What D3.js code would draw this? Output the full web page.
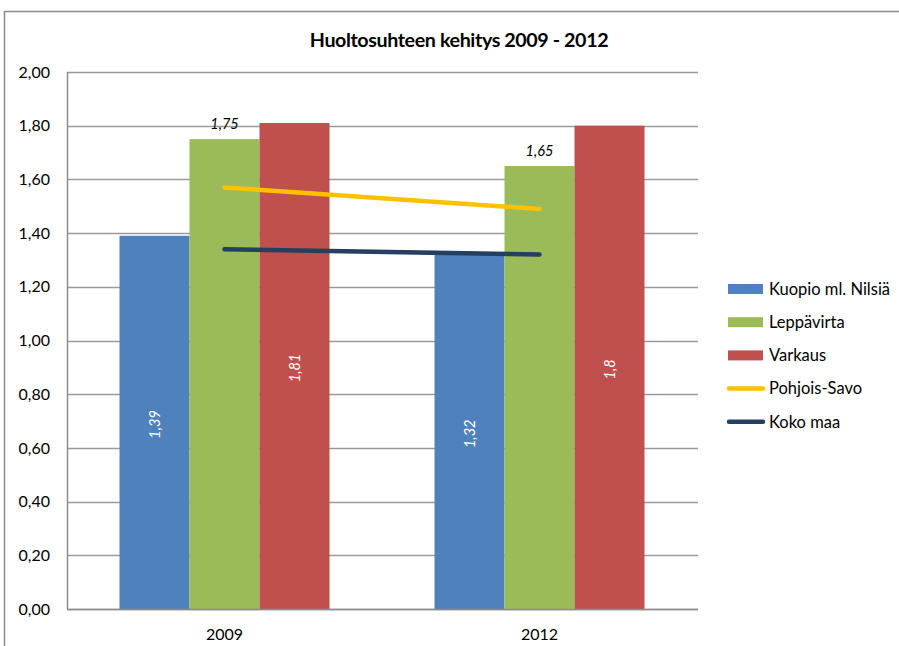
<!DOCTYPE html>
<html>
<head>
<meta charset="utf-8">
<script src="https://cdn.jsdelivr.net/npm/d3@7"></script>
<style>
  body { margin: 0; background: #fff; }
  svg { display: block; font-family: Lato, "Liberation Sans", sans-serif; }
</style>
</head>
<body>
<div id="chart"></div>
<script>
// data
var years = ["2009", "2012"];
var barSeries = ["Kuopio ml. Nilsiä", "Leppävirta", "Varkaus"];
var kuopio = [1.39, 1.32];
var leppavirta = [1.75, 1.65];
var varkaus = [1.81, 1.8];
var pohjoisSavo = [1.57, 1.49];
var kokoMaa = [1.34, 1.32];
var yTicks = [0, 0.2, 0.4, 0.6, 0.8, 1.0, 1.2, 1.4, 1.6, 1.8, 2.0];

var barColors = ["#4F81BD", "#9BBB59", "#C0504D"];
var lineColors = ["#FFC000", "#243F60"];

var width = 899, height = 646;
var margin = {top: 72, right: 202, bottom: 37, left: 67};

var svg = d3.select("#chart").append("svg")
    .attr("width", width)
    .attr("height", height);

// chart area frame (cut at right/bottom like the screenshot)
svg.append("path")
    .attr("d", "M4.5," + height + "V11.5H" + width)
    .attr("fill", "none")
    .attr("stroke", "#8c8c8c")
    .attr("stroke-width", 1.5);

var x0 = d3.scaleBand()
    .domain(years)
    .range([margin.left, width - margin.right]);

var x1 = d3.scaleBand()
    .domain(barSeries)
    .range([0, x0.bandwidth()])
    .paddingOuter(0.75);

var y = d3.scaleLinear()
    .domain([0, 2])
    .range([height - margin.bottom, margin.top]);

var fmt = function(v){ return d3.format(".2f")(v).replace(".", ","); };

// gridlines
svg.append("g")
  .selectAll("line")
  .data(yTicks)
  .join("line")
    .attr("x1", margin.left)
    .attr("x2", width - margin.right + 1)
    .attr("y1", d => Math.round(y(d)) + 0.5)
    .attr("y2", d => Math.round(y(d)) + 0.5)
    .attr("stroke", "#9a9a9a")
    .attr("stroke-width", 1.5);

// y labels
svg.append("g")
  .selectAll("text")
  .data(yTicks)
  .join("text")
    .attr("x", 50)
    .attr("y", d => y(d))
    .attr("dy", "0.35em")
    .attr("text-anchor", "end")
    .attr("font-size", 16)
    .attr("fill", "#000")
    .text(fmt);

// bars
var barData = years.map(function(yr, i){
  return [kuopio[i], leppavirta[i], varkaus[i]].map(function(v, j){
    return {year: yr, series: barSeries[j], idx: j, value: v};
  });
});

var groups = svg.append("g")
  .selectAll("g")
  .data(barData)
  .join("g")
    .attr("transform", (d, i) => "translate(" + x0(years[i]) + ",0)");

groups.selectAll("rect")
  .data(d => d)
  .join("rect")
    .attr("x", d => x1(d.series))
    .attr("width", x1.bandwidth())
    .attr("y", d => y(d.value))
    .attr("height", d => y(0) - y(d.value))
    .attr("fill", d => barColors[d.idx]);

// labels inside bars (rotated) for Kuopio and Varkaus
groups.selectAll("text.inside")
  .data(d => d.filter(e => e.idx !== 1))
  .join("text")
    .attr("class", "inside")
    .attr("transform", d => "translate(" + (x1(d.series) + x1.bandwidth() / 2) + "," + ((y(d.value) + y(0)) / 2 + 2) + ") rotate(-90)")
    .attr("text-anchor", "middle")
    .attr("dy", "0.35em")
    .attr("font-size", 14.5)
    .attr("font-style", "italic")
    .attr("fill", "#fff")
    .text(d => String(d.value).replace(".", ","));

// labels above Leppävirta bars
groups.selectAll("text.above")
  .data(d => d.filter(e => e.idx === 1))
  .join("text")
    .attr("class", "above")
    .attr("x", d => x1(d.series) + x1.bandwidth() / 2)
    .attr("y", d => y(d.value) - 10)
    .attr("text-anchor", "middle")
    .attr("font-size", 14.5)
    .attr("font-style", "italic")
    .attr("fill", "#000")
    .text(d => String(d.value).replace(".", ","));

// lines
var line = d3.line()
    .x((d, i) => x0(years[i]) + x0.bandwidth() / 2)
    .y(d => y(d));

[pohjoisSavo, kokoMaa].forEach(function(s, k){
  svg.append("path")
    .datum(s)
    .attr("d", line)
    .attr("fill", "none")
    .attr("stroke", lineColors[k])
    .attr("stroke-width", 4.5)
    .attr("stroke-linecap", "round");
});

// axes lines
svg.append("line")
    .attr("x1", margin.left + 0.5).attr("x2", margin.left + 0.5)
    .attr("y1", margin.top).attr("y2", y(0))
    .attr("stroke", "#8c8c8c").attr("stroke-width", 1.5);
svg.append("line")
    .attr("x1", margin.left).attr("x2", width - margin.right + 1)
    .attr("y1", Math.round(y(0)) + 0.5).attr("y2", Math.round(y(0)) + 0.5)
    .attr("stroke", "#8c8c8c").attr("stroke-width", 1.5);

// x labels
svg.append("g")
  .selectAll("text")
  .data(years)
  .join("text")
    .attr("x", d => x0(d) + x0.bandwidth() / 2)
    .attr("y", 640)
    .attr("text-anchor", "middle")
    .attr("font-size", 16)
    .attr("fill", "#000")
    .text(d => d);

// title
svg.append("text")
    .attr("x", 459)
    .attr("y", 47)
    .attr("text-anchor", "middle")
    .attr("font-size", 19.7)
    .attr("font-weight", "bold")
    .attr("letter-spacing", "-0.4")
    .attr("fill", "#000")
    .text("Huoltosuhteen kehitys 2009 - 2012");

// legend
var legendItems = barSeries.map((s, i) => ({name: s, color: barColors[i], type: "bar"}))
  .concat([
    {name: "Pohjois-Savo", color: lineColors[0], type: "line"},
    {name: "Koko maa", color: lineColors[1], type: "line"}
  ]);

var legend = svg.append("g")
  .selectAll("g")
  .data(legendItems)
  .join("g")
    .attr("transform", (d, i) => "translate(728," + (289 + i * 33.2) + ")");

legend.filter(d => d.type === "bar").append("rect")
    .attr("x", 0).attr("y", -5)
    .attr("width", 35).attr("height", 10)
    .attr("fill", d => d.color);

legend.filter(d => d.type === "line").append("line")
    .attr("x1", 1).attr("x2", 35)
    .attr("y1", 0).attr("y2", 0)
    .attr("stroke", d => d.color)
    .attr("stroke-width", 4.5)
    .attr("stroke-linecap", "round");

legend.append("text")
    .attr("x", 41)
    .attr("y", 0)
    .attr("dy", "0.35em")
    .attr("font-size", 16.5)
    .attr("fill", "#000")
    .text(d => d.name);
</script>
</body>
</html>
